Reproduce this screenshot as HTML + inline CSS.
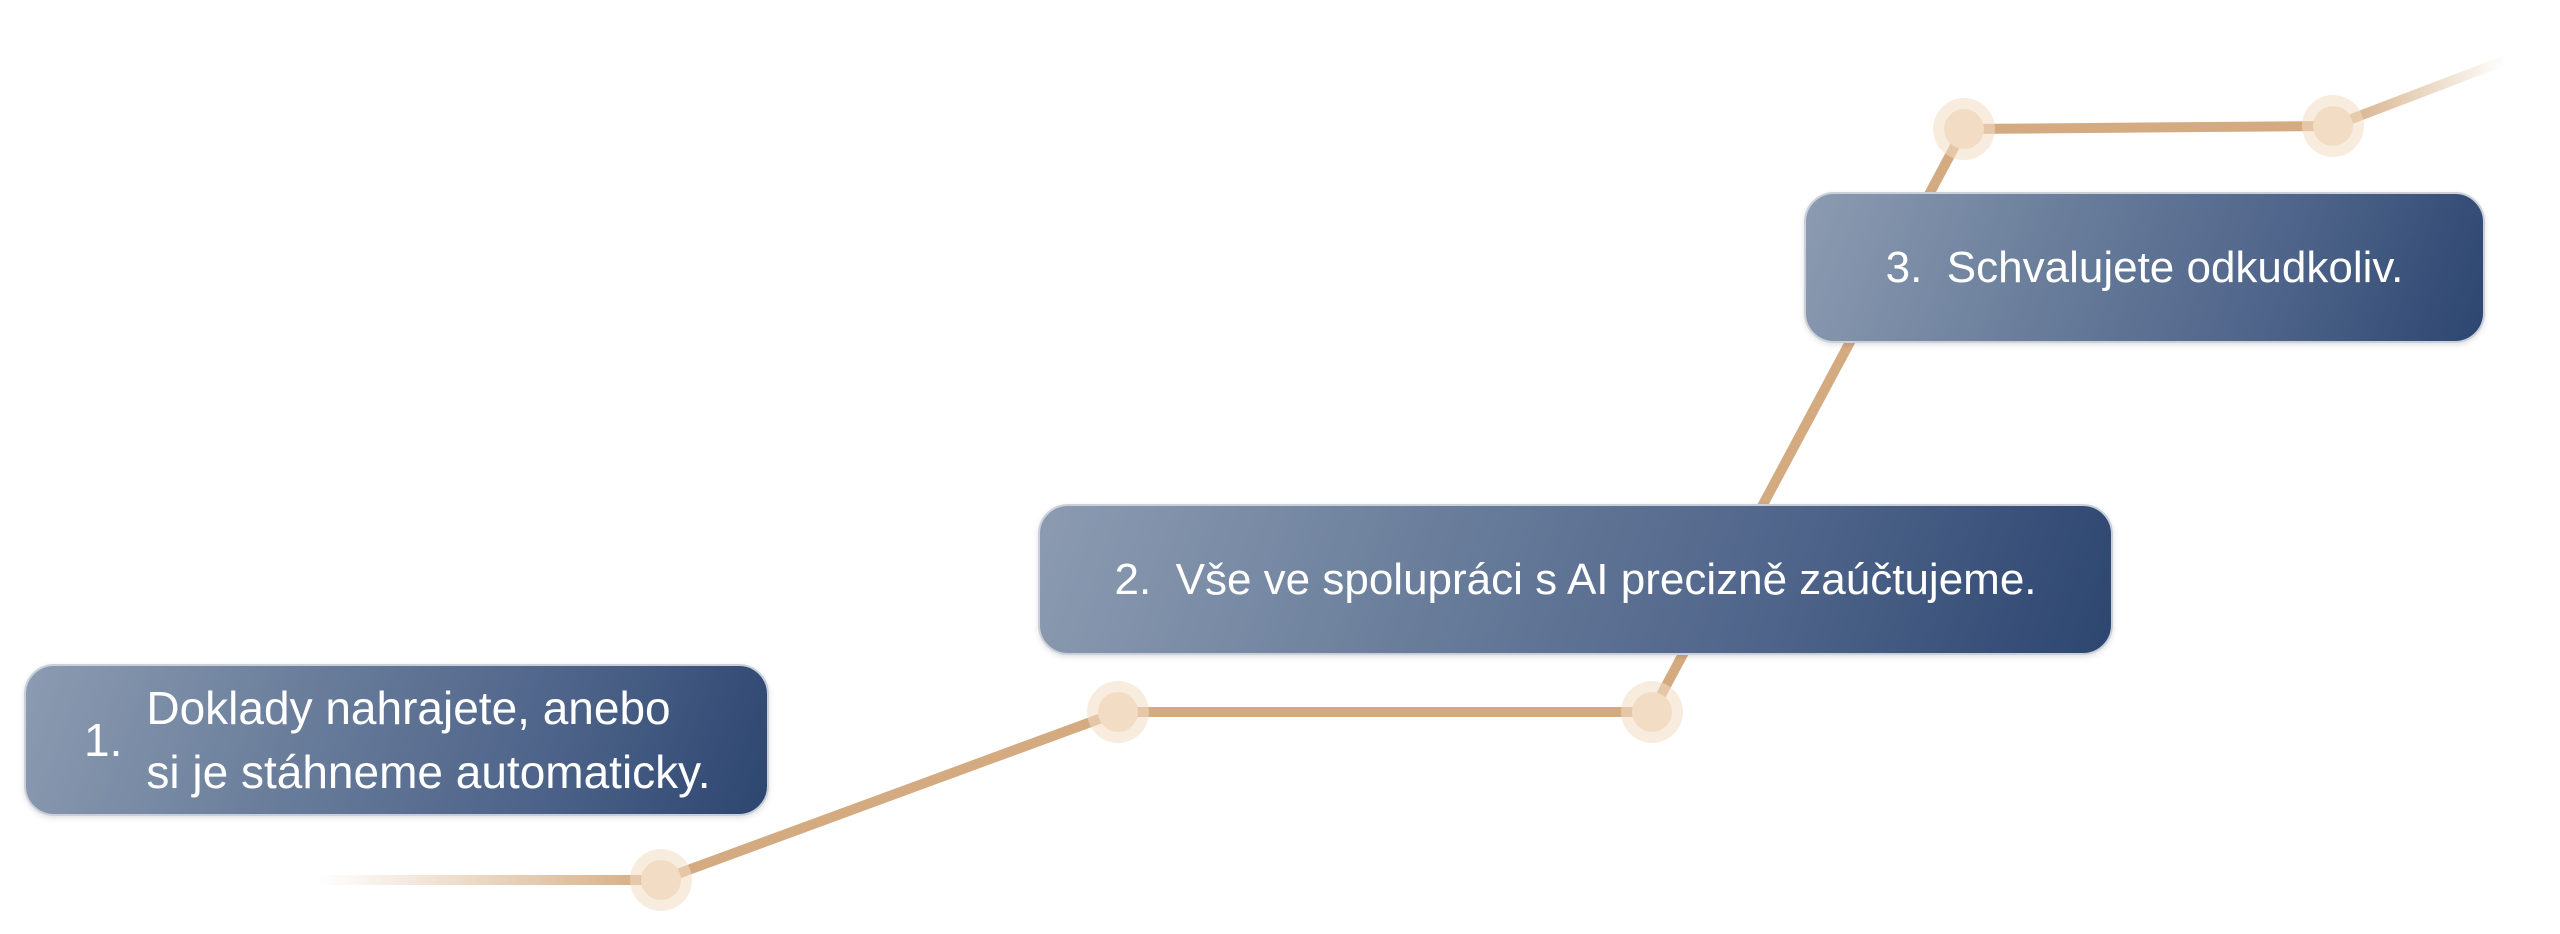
<!DOCTYPE html>
<html><head><meta charset="utf-8"><style>
html,body{margin:0;padding:0;background:#fff;}
body{width:2560px;height:934px;position:relative;overflow:hidden;font-family:"Liberation Sans",sans-serif;}
svg{position:absolute;left:0;top:0;}
.box{position:absolute;border-radius:30px;border:2px solid #c9d0da;box-sizing:border-box;
background:linear-gradient(110deg,#8c9bb1 0%,#6b7f9c 35%,#4d6389 70%,#2d4670 100%);
color:#fff;font-size:44px;display:flex;align-items:center;justify-content:center;box-shadow:0 2px 6px rgba(0,0,0,.12);}
</style></head><body>
<svg width="2560" height="934">
<defs>
<linearGradient id="f1" x1="319" y1="0" x2="661" y2="0" gradientUnits="userSpaceOnUse">
<stop offset="0" stop-color="#d4ab80" stop-opacity="0"/><stop offset="1" stop-color="#d4ab80"/></linearGradient>
<linearGradient id="f2" x1="2333" y1="0" x2="2506" y2="0" gradientUnits="userSpaceOnUse">
<stop offset="0" stop-color="#d4ab80"/><stop offset="1" stop-color="#d4ab80" stop-opacity="0"/></linearGradient>
</defs>
<line x1="319" y1="880" x2="661" y2="880" stroke="url(#f1)" stroke-width="10"/>
<line x1="2333" y1="126" x2="2506" y2="60" stroke="url(#f2)" stroke-width="10"/>
<polyline points="661,880 1118,712 1652,712 1964,129 2333,126" fill="none" stroke="#d4ab80" stroke-width="10"/>
<g fill="#f2dcc4">
<circle cx="661" cy="880" r="31" opacity=".55"/><circle cx="661" cy="880" r="20"/>
<circle cx="1118" cy="712" r="31" opacity=".55"/><circle cx="1118" cy="712" r="20"/>
<circle cx="1652" cy="712" r="31" opacity=".55"/><circle cx="1652" cy="712" r="20"/>
<circle cx="1964" cy="129" r="31" opacity=".55"/><circle cx="1964" cy="129" r="20"/>
<circle cx="2333" cy="126" r="31" opacity=".55"/><circle cx="2333" cy="126" r="20"/>
</g>
</svg>
<div class="box" style="left:24px;top:664px;width:745px;height:152px;justify-content:flex-start;font-size:46px;">
<span style="margin-left:58px;margin-right:24px;">1.</span>
<span style="line-height:64px;">Doklady nahrajete, anebo<br>si je stáhneme automaticky.</span></div>
<div class="box" style="left:1038px;top:504px;width:1075px;height:151px;">2.&nbsp; Vše ve spolupráci s AI precizně zaúčtujeme.</div>
<div class="box" style="left:1804px;top:192px;width:681px;height:151px;">3.&nbsp; Schvalujete odkudkoliv.</div>
</body></html>
